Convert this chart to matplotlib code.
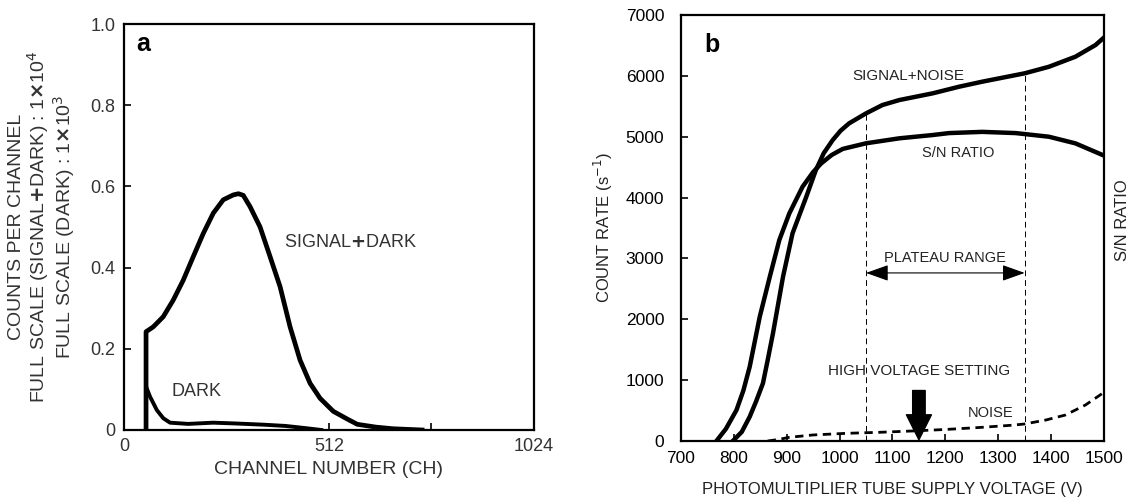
import matplotlib
matplotlib.use("Agg")
import matplotlib.pyplot as plt
from matplotlib.ticker import FixedLocator

plt.rcParams["font.family"] = ["Liberation Sans", "DejaVu Sans"]

# panel a: pulse height distribution
sig_ch = [55, 55, 73, 98, 123, 148, 173, 198, 223, 248, 273, 286, 298, 315, 340, 365,
          390, 415, 440, 465, 490, 523, 556, 583, 630, 673, 745]
sig_val = [0.0, 0.242, 0.254, 0.279, 0.32, 0.369, 0.427, 0.484, 0.534, 0.567, 0.579, 0.582,
           0.578, 0.55, 0.50, 0.427, 0.353, 0.254, 0.172, 0.115, 0.078, 0.046, 0.028, 0.014,
           0.007, 0.003, 0.0]
dark_ch = [55, 55, 65, 82, 98, 115, 160, 223, 280, 350, 403, 450, 493]
dark_val = [0.0, 0.107, 0.082, 0.049, 0.029, 0.018, 0.015, 0.018, 0.016, 0.013, 0.010, 0.005, 0.0]

# panel b: plateau characteristics
sn_volt = [798, 815, 830, 842, 855, 864, 874, 893, 911, 937, 955, 970, 987, 1002, 1018, 1050, 1081,
           1113, 1176, 1226, 1270, 1350, 1396, 1446, 1484, 1500]
sn_count = [0, 150, 399, 650, 948, 1330, 1770, 2700, 3413, 4014, 4450, 4730, 4946, 5100, 5220, 5384,
            5521, 5603, 5713, 5822, 5905, 6042, 6150, 6315, 6507, 6630]
ratio_volt = [767, 785, 805, 818, 830, 849, 868, 886, 905, 930, 950, 965, 985, 1006, 1050, 1113, 1176,
              1207, 1270, 1333, 1396, 1446, 1500]
ratio_val = [0, 200, 509, 830, 1221, 2043, 2700, 3303, 3742, 4179, 4420, 4560, 4700, 4800, 4892, 4974,
             5028, 5060, 5080, 5060, 5000, 4891, 4690]
noise_volt = [864, 886, 905, 949, 1012, 1075, 1138, 1201, 1264, 1327, 1350, 1390, 1427, 1465, 1500]
noise_count = [0, 28, 61, 99, 126, 143, 165, 190, 222, 260, 280, 345, 427, 592, 800]
plateau = [1050, 1350]
hv_setting = 1150

fig = plt.figure(figsize=(11.38, 4.99), dpi=100)
ax1 = fig.add_axes([0.109, 0.1383, 0.360, 0.8136])
ax2 = fig.add_axes([0.5984, 0.1162, 0.3717, 0.8537])

for ax in (ax1, ax2):
    for s in ax.spines.values():
        s.set_linewidth(1.6)
    ax.tick_params(direction="in", length=5, width=1.2, labelsize=12.5)
    ax.tick_params(which="minor", direction="in", length=5, width=1.2)
ax1.tick_params(pad=6, labelcolor="#333333", labelsize=13)
ax2.tick_params(axis="y", pad=12)
ax2.tick_params(axis="x", pad=7)

ax1.plot(sig_ch, sig_val, color="black", lw=3.4)
ax1.plot(dark_ch, dark_val, color="black", lw=2.8)
ax1.set_xlim(0, 1024)
ax1.set_ylim(0, 1.0)
ax1.set_xticks([0, 512, 1024])
ax1.xaxis.set_minor_locator(FixedLocator([768]))
ax1.set_yticks([0, 0.2, 0.4, 0.6, 0.8, 1.0])
ax1.set_yticklabels(["0", "0.2", "0.4", "0.6", "0.8", "1.0"])
ax1.set_xlabel("CHANNEL NUMBER (CH)", fontsize=14, color="#333333", labelpad=4)
ax1.set_ylabel("COUNTS PER CHANNEL\nFULL SCALE (SIGNAL$\\mathbf{+}$DARK) : 1$\\mathbf{\\times}$10$^4$\n"
               "FULL SCALE (DARK) : 1$\\mathbf{\\times}$10$^3$",
               fontsize=14, color="#333333", linespacing=1.0, labelpad=10)
ax1.text(30, 0.95, "a", fontsize=18, fontweight="bold", va="center")
ax1.text(565, 0.461, "SIGNAL$\\mathbf{+}$DARK", fontsize=13, color="#333333", ha="center", va="center")
ax1.text(182, 0.094, "DARK", fontsize=13, color="#333333", ha="center", va="center")

ax2.plot(sn_volt, sn_count, color="black", lw=3.2)
ax2.plot(ratio_volt, ratio_val, color="black", lw=3.2)
ax2.plot(noise_volt, noise_count, color="black", lw=2, ls=(0, (3, 2)))
ax2.set_xlim(700, 1500)
ax2.set_ylim(0, 7000)
ax2.set_xticks(range(700, 1501, 100))
ax2.set_yticks(range(0, 7001, 1000))
ax2.set_xlabel("PHOTOMULTIPLIER TUBE SUPPLY VOLTAGE (V)", fontsize=12, color="#222222", labelpad=12)
ax2.set_ylabel("COUNT RATE (s$^{-1}$)", fontsize=12, color="#222222", labelpad=8)
ax2.vlines(plateau[0], 0, 5384, color="black", lw=0.7, ls=(0, (6, 4)))
ax2.vlines(plateau[1], 0, 6042, color="black", lw=0.7, ls=(0, (6, 4)))
ax2.annotate("", xy=(plateau[0], 2762), xytext=(plateau[1], 2762),
             arrowprops=dict(arrowstyle="<|-|>,head_length=0.7,head_width=0.25",
                             mutation_scale=20, color="black", lw=0.8, shrinkA=0, shrinkB=0))
ax2.text(1200, 3010, "PLATEAU RANGE", fontsize=10.5, color="#222222", ha="center", va="center")
ax2.annotate("", xy=(hv_setting, 20), xytext=(hv_setting, 830),
             arrowprops=dict(width=9, headwidth=18, headlength=18, facecolor="black",
                             edgecolor="black", shrink=0))
ax2.text(hv_setting, 1150, "HIGH VOLTAGE SETTING", fontsize=11, color="#222222", ha="center", va="center")
ax2.text(1286, 465, "NOISE", fontsize=10.5, color="#222222", ha="center", va="center")
ax2.text(1130, 5990, "SIGNAL+NOISE", fontsize=11, color="#222222", ha="center", va="center")
ax2.text(1224, 4730, "S/N RATIO", fontsize=10.5, color="#222222", ha="center", va="center")
ax2.text(759, 6510, "b", fontsize=18, fontweight="bold", ha="center", va="center")
fig.text(0.986, 0.559, "S/N RATIO", rotation=90, fontsize=12, color="#222222", ha="center", va="center")

plt.savefig("out.png", dpi=100)
